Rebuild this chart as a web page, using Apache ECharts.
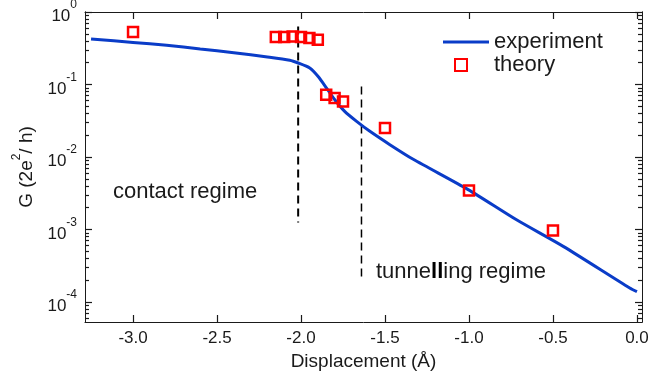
<!DOCTYPE html>
<html>
<head>
<meta charset="utf-8">
<script src="https://cdn.jsdelivr.net/npm/echarts@6/dist/echarts.min.js"></script>
<style>
html, body { margin: 0; padding: 0; background: #fff; }
#chart { width: 663px; height: 379px; }
</style>
</head>
<body>
<div id="chart"></div>
<script>
// experiment curve
const expX = [-3.25, -3.0, -2.8, -2.6, -2.4, -2.2, -2.067, -2.017, -1.948, -1.898, -1.848, -1.799, -1.740, -1.669, -1.590, -1.471, -1.332, -1.005, -0.717, -0.439, -0.043, 0.0];
const expG = [0.425, 0.38, 0.347, 0.309, 0.275, 0.24, 0.216, 0.198, 0.169, 0.129, 0.0893, 0.0617, 0.0426, 0.0310, 0.0226, 0.0148, 0.0093, 0.00355, 0.00136, 0.000585, 0.000156, 0.000139];
// theory points
const thX = [-3.0, -2.15, -2.10, -2.05, -2.0, -1.95, -1.90, -1.85, -1.80, -1.75, -1.5, -1.0, -0.5];
const thG = [0.53, 0.452, 0.452, 0.46, 0.452, 0.438, 0.415, 0.0723, 0.065, 0.0585, 0.0251, 0.00346, 0.00097];
// dashed regime markers
const dash1X = [-2.017, -2.017];
const dash1G = [0.633, 0.00125];
const dash2X = [-1.64, -1.64];
const dash2G = [0.094, 0.000192];
// ticks
const xTicks = [-3.0, -2.5, -2.0, -1.5, -1.0, -0.5, 0.0];
const yMajor = [1e-4, 1e-3, 1e-2, 1e-1, 1];
const yMinorMult = [2, 3, 4, 5, 6, 7, 8, 9];

const yMin = 5.3e-5, yMax = 1;
const xMin = -3.286, xMax = 0.03;
const font = 'Liberation Sans';
const ink = '#1a1a1a';

const yMinor = [];
[1e-5, 1e-4, 1e-3, 1e-2, 1e-1].forEach(d => {
	yMinorMult.forEach(m => {
		const v = m * d;
		if (v >= yMin && v <= yMax) yMinor.push(v);
	});
});

const pair = (xs, ys) => xs.map((x, i) => [x, ys[i]]);

const supFmt = (v) => {
	const e = Math.round(Math.log10(v));
	return '{b|10}{s|' + e + '}';
};

const supRich = {
	b: {fontSize: 17, fontFamily: font, color: ink, lineHeight: 26, verticalAlign: 'bottom'},
	s: {fontSize: 12, fontFamily: font, color: ink, lineHeight: 26, verticalAlign: 'top'},
};

const yAxisBase = (pos, ticks, len, labels) => ({
	type: 'log',
	logBase: 10,
	min: yMin,
	max: yMax,
	position: pos,
	axisLine: {show: true, onZero: false, lineStyle: {color: ink, width: 1}},
	axisTick: {show: true, inside: true, length: len, customValues: ticks, lineStyle: {color: ink, width: 1.2}},
	axisLabel: labels ? {show: true, customValues: yMajor, margin: 8, formatter: supFmt, rich: supRich} : {show: false},
	splitLine: {show: false},
	minorTick: {show: false},
});

const xAxisBase = (pos, labels) => ({
	type: 'value',
	min: xMin,
	max: xMax,
	position: pos,
	axisLine: {show: true, onZero: false, lineStyle: {color: ink, width: 1}},
	axisTick: {show: true, inside: true, length: 7, customValues: xTicks, lineStyle: {color: ink, width: 1.2}},
	axisLabel: labels ? {show: true, customValues: xTicks, margin: 8, fontSize: 17, fontFamily: font, color: ink, formatter: v => v.toFixed(1)} : {show: false},
	splitLine: {show: false},
});

const chart = echarts.init(document.getElementById('chart'));
const option = {
	animation: false,
	backgroundColor: '#fff',
	grid: {left: 85, right: 21, top: 12, bottom: 57, containLabel: false, outerBoundsMode: 'none'},
	xAxis: [
		Object.assign(xAxisBase('bottom', true), {
			name: 'Displacement (Å)',
			nameLocation: 'middle',
			nameGap: 25,
			nameTextStyle: {fontSize: 19, fontFamily: font, color: ink},
		}),
		xAxisBase('top', false),
	],
	yAxis: [
		Object.assign(yAxisBase('left', yMajor, 7, true), {
			name: '{a|G (2e}{s|2}{a|/ h)}',
			nameLocation: 'middle',
			nameGap: 46,
			nameTextStyle: {
				rich: {
					a: {fontSize: 19, fontFamily: font, color: ink, lineHeight: 26, verticalAlign: 'bottom'},
					s: {fontSize: 12, fontFamily: font, color: ink, lineHeight: 26, verticalAlign: 'top'},
				},
			},
		}),
		yAxisBase('left', yMinor, 4, false),
		yAxisBase('right', yMajor, 7, false),
		yAxisBase('right', yMinor, 4, false),
	],
	legend: [
		{
			data: [{name: 'experiment', icon: 'rect'}],
			left: 443,
			top: 31,
			padding: 0,
			itemWidth: 46,
			itemHeight: 3,
			textStyle: {fontSize: 22, fontFamily: font, color: ink},
		},
		{
			data: ['theory'],
			left: 454,
			top: 54,
			padding: 0,
			itemWidth: 12,
			itemHeight: 12,
			formatter: name => '{p|}{t|' + name + '}',
			textStyle: {
				fontSize: 22, fontFamily: font, color: ink,
				rich: {p: {width: 22}, t: {fontSize: 22, fontFamily: font, color: ink}},
			},
		},
	],
	graphic: [
		{type: 'text', left: 113, top: 181, style: {text: 'contact regime', fontSize: 22, fontFamily: font, fill: ink}},
		{
			type: 'text', left: 376, top: 261,
			style: {
				text: '{a|tunne}{b|ll}{a|ing regime}',
				rich: {
					a: {fontSize: 22, fontFamily: font, fill: ink},
					b: {fontSize: 22, fontFamily: font, fill: '#000', fontWeight: 'bold'},
				},
			},
		},
	],
	series: [
		{
			name: 'dash1',
			type: 'line',
			data: pair(dash1X, dash1G),
			symbol: 'none',
			silent: true,
			lineStyle: {color: '#000', width: 2, type: [8, 5]},
		},
		{
			name: 'dash2',
			type: 'line',
			data: pair(dash2X, dash2G),
			symbol: 'none',
			silent: true,
			lineStyle: {color: '#000', width: 1.5, type: [8, 5]},
		},
		{
			name: 'experiment',
			type: 'line',
			data: pair(expX, expG),
			symbol: 'none',
			smooth: 0.25,
			lineStyle: {color: '#0a3cc8', width: 3},
			itemStyle: {color: '#0a3cc8'},
		},
		{
			name: 'theory',
			type: 'scatter',
			data: pair(thX, thG),
			symbol: 'rect',
			symbolSize: 10,
			itemStyle: {color: 'rgba(255,255,255,0)', borderColor: '#ff0000', borderWidth: 2.5, opacity: 1},
			z: 5,
		},
	],
};
option && chart.setOption(option);
</script>
</body>
</html>
